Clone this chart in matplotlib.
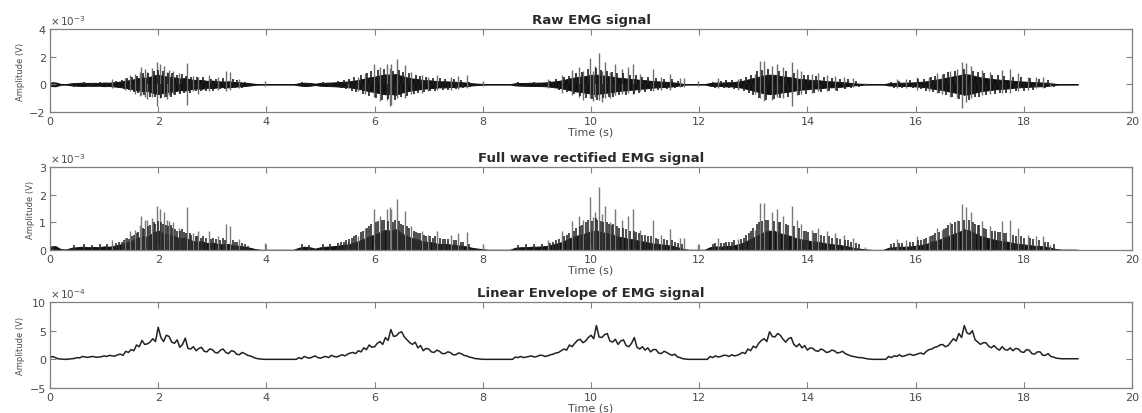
import numpy as np
import matplotlib
matplotlib.use("Agg")
import matplotlib.pyplot as plt

plt.rcParams['font.family'] = ['DejaVu Sans']

# ---------------- data ----------------
# sample times of the dense signal band, 0.1 s step, 0 .. 19 s
band_t = np.round(np.arange(0, 191) * 0.1, 1)

# half-height of the dense EMG band (x 1e-3 V)
band_amp = [
    0.12, 0.14, 0.03, 0.02, 0.08, 0.1, 0.12, 0.1, 0.11, 0.1,
    0.13, 0.12, 0.16, 0.2, 0.26, 0.32, 0.42, 0.5, 0.48, 0.62,
    0.7, 0.6, 0.55, 0.5, 0.42, 0.45, 0.35, 0.3, 0.32, 0.25,
    0.27, 0.22, 0.2, 0.22, 0.17, 0.15, 0.12, 0.08, 0.03, 0.01,
    0.01, 0.01, 0.01, 0.01, 0.01, 0.01, 0.08, 0.12, 0.1, 0.05,
    0.1, 0.12, 0.13, 0.15, 0.18, 0.2, 0.25, 0.32, 0.4, 0.5,
    0.55, 0.65, 0.72, 0.7, 0.75, 0.6, 0.5, 0.42, 0.38, 0.3,
    0.3, 0.25, 0.22, 0.22, 0.2, 0.18, 0.15, 0.13, 0.08, 0.05,
    0.03, 0.01, 0.01, 0.01, 0.01, 0.01, 0.08, 0.1, 0.1, 0.12,
    0.12, 0.13, 0.15, 0.2, 0.25, 0.32, 0.42, 0.5, 0.55, 0.6,
    0.68, 0.7, 0.65, 0.6, 0.55, 0.48, 0.45, 0.4, 0.38, 0.32,
    0.3, 0.25, 0.22, 0.2, 0.18, 0.15, 0.1, 0.04, 0.01, 0.01,
    0.01, 0.01, 0.1, 0.13, 0.12, 0.15, 0.15, 0.2, 0.25, 0.35,
    0.45, 0.55, 0.65, 0.7, 0.68, 0.6, 0.55, 0.5, 0.42, 0.38,
    0.35, 0.3, 0.3, 0.25, 0.22, 0.2, 0.18, 0.15, 0.1, 0.06,
    0.04, 0.02, 0.005, 0.005, 0.005, 0.08, 0.1, 0.12, 0.12, 0.13,
    0.15, 0.18, 0.22, 0.3, 0.35, 0.42, 0.5, 0.58, 0.65, 0.75,
    0.7, 0.6, 0.5, 0.45, 0.4, 0.35, 0.32, 0.3, 0.25, 0.22,
    0.2, 0.18, 0.15, 0.14, 0.12, 0.08, 0.03, 0.015, 0.015, 0.015,
    0.01,
]

# short single samples sticking out of the band (time s, signed value x 1e-3 V)
hair_t = [
    0.05, 0.45, 0.62, 0.78, 0.93, 1.05, 4.65, 4.78, 5.05, 5.17, 8.65, 8.8, 8.95, 9.1,
    1.22, 1.27, 1.33, 1.36, 1.43, 1.46, 1.52, 1.55, 1.61, 1.63,
    1.72, 1.74, 1.82, 1.85, 1.92, 1.94, 2.0, 2.06, 2.08, 2.14,
    2.18, 2.23, 2.25, 2.31, 2.34, 2.41, 2.44, 2.48, 2.51, 2.58,
    2.61, 2.69, 2.71, 2.79, 2.83, 2.88, 2.97, 3.02, 3.07, 3.15,
    3.19, 3.23, 3.38, 3.42, 3.46, 3.55, 3.6, 3.66,
    5.32, 5.38, 5.44, 5.47, 5.53, 5.58, 5.62, 5.66, 5.74, 5.78,
    5.86, 5.9, 5.94, 6.02, 6.06, 6.13, 6.17, 6.25, 6.34, 6.37,
    6.45, 6.48, 6.52, 6.6, 6.63, 6.72, 6.76, 6.81, 6.84, 6.92,
    6.95, 7.03, 7.08, 7.12, 7.2, 7.26, 7.3, 7.36, 7.47, 7.51,
    7.6, 7.64, 7.75,
    9.25, 9.3, 9.35, 9.4, 9.5, 9.55, 9.6, 9.68, 9.72, 9.8,
    9.83, 9.9, 9.94, 10.01, 10.1, 10.12, 10.18, 10.23, 10.3, 10.33,
    10.38, 10.41, 10.48, 10.52, 10.6, 10.64, 10.72, 10.8, 10.84, 10.88,
    10.95, 11.0, 11.05, 11.1, 11.2, 11.24, 11.35, 11.4, 11.5, 11.55,
    11.6, 11.68,
    12.25, 12.3, 12.4, 12.45, 12.5, 12.55, 12.6, 12.65, 12.77, 12.82,
    12.86, 12.92, 12.96, 13.0, 13.07, 13.1, 13.16, 13.24, 13.28, 13.38,
    13.47, 13.5, 13.6, 13.65, 13.75, 13.84, 13.93, 13.97, 14.02, 14.12,
    14.15, 14.25, 14.3, 14.4, 14.45, 14.55, 14.6, 14.7, 14.75, 14.8,
    14.9, 14.95,
    15.55, 15.6, 15.7, 15.75, 15.9, 15.95, 16.05, 16.1, 16.15, 16.2,
    16.28, 16.32, 16.36, 16.43, 16.52, 16.56, 16.6, 16.68, 16.72, 16.8,
    16.9, 16.98, 17.07, 17.1, 17.15, 17.18, 17.26, 17.3, 17.42, 17.47,
    17.52, 17.56, 17.63, 17.68, 17.8, 17.85, 17.95, 18.0, 18.12, 18.17,
    18.28, 18.4, 18.45, 18.55,
]
hair_v = [
    0.15, -0.18, 0.2, -0.18, 0.2, -0.22, 0.2, -0.18, 0.2, -0.2, 0.18, -0.2, 0.2, -0.22,
    0.25, -0.3, 0.3, -0.35, 0.45, -0.4, 0.5, -0.55, 0.6, -0.65,
    0.8, -0.75, 0.85, -0.9, 1.0, -0.95, 1.05, -1.0, 0.95, -0.9,
    0.85, -0.9, 0.8, -0.75, 0.7, -0.7, 0.75, -0.65, 0.6, -0.6,
    0.55, -0.5, 0.5, -0.45, 0.5, -0.45, 0.4, -0.45, 0.4, -0.35,
    0.45, -0.35, 0.35, -0.3, 0.3, -0.25, 0.2, -0.15,
    0.25, -0.3, 0.3, -0.35, 0.4, -0.45, 0.5, -0.55, 0.65, -0.7,
    0.8, -0.85, 0.95, -1.0, 1.05, -1.1, 1.1, -1.05, 1.0, -1.1,
    1.05, -0.95, 0.9, -0.85, 0.8, -0.7, 0.65, -0.6, 0.6, -0.55,
    0.5, -0.5, 0.45, -0.5, 0.45, -0.4, 0.4, -0.4, 0.35, -0.35,
    0.3, -0.3, 0.2,
    0.25, -0.3, 0.35, -0.4, 0.5, -0.55, 0.6, -0.7, 0.8, -0.85,
    0.9, -1.0, 1.1, -1.05, 1.15, -1.1, 1.05, -1.0, 1.0, -0.95,
    0.9, -0.95, 0.85, -0.8, 0.8, -0.75, 0.7, -0.7, 0.65, -0.6,
    0.55, -0.55, 0.5, -0.5, 0.45, -0.4, 0.4, -0.35, 0.35, -0.3,
    0.25, -0.2,
    0.2, -0.25, 0.25, -0.25, 0.3, -0.3, 0.3, -0.35, 0.4, -0.45,
    0.55, -0.6, 0.7, -0.8, 0.95, -1.0, 1.05, -1.1, 1.1, -1.05,
    1.0, -1.0, 0.95, -0.9, 0.85, -0.8, 0.7, -0.7, 0.65, -0.6,
    0.6, -0.55, 0.5, -0.5, 0.45, -0.45, 0.4, -0.35, 0.35, -0.3,
    0.25, -0.2,
    0.2, -0.25, 0.25, -0.25, 0.3, -0.3, 0.35, -0.35, 0.4, -0.45,
    0.5, -0.55, 0.6, -0.65, 0.75, -0.8, 0.9, -0.95, 1.0, -1.05,
    1.1, -1.1, 1.0, -0.95, 0.9, -0.9, 0.8, -0.75, 0.7, -0.7,
    0.65, -0.65, 0.6, -0.6, 0.55, -0.5, 0.5, -0.45, 0.45, -0.4,
    0.35, -0.3, 0.3, -0.2,
]

# tall spikes of the raw signal (time s, positive peak, negative peak; x 1e-3 V)
spike_t = [
    1.14, 1.39, 1.48, 1.57, 1.66, 1.69, 1.76, 1.79, 1.88, 1.97, 2.03, 2.11, 2.16,
    2.2, 2.28, 2.38, 2.54, 2.65, 2.74, 2.93, 3.11, 3.26, 3.33, 3.5, 3.97,
    5.5, 5.7, 5.82, 5.98, 6.1, 6.22, 6.28, 6.31, 6.41, 6.56, 6.68, 6.87, 6.99,
    7.15, 7.42, 7.55, 7.7, 8.01,
    9.21, 9.46, 9.64, 9.77, 9.86, 9.98, 10.04, 10.07, 10.15, 10.2, 10.26, 10.35,
    10.44, 10.57, 10.68, 10.77, 10.91, 11.15, 11.3, 11.46, 11.64, 11.72, 11.98,
    12.35, 12.72, 13.03, 13.12, 13.2, 13.34, 13.43, 13.55, 13.71, 13.8, 13.89,
    14.08, 14.2, 14.36, 14.51, 14.67, 14.85, 15.06,
    15.65, 15.83, 16.02, 16.24, 16.39, 16.48, 16.64, 16.76, 16.85, 16.94, 17.03,
    17.22, 17.37, 17.59, 17.74, 17.9, 18.08, 18.23, 18.35, 18.48,
]
spike_hi = [
    0.37, 0.43, 0.68, 0.74, 0.9, 1.23, 1.1, 0.9, 1.17, 1.58, 1.48, 1.36, 0.9,
    1.05, 1.0, 0.8, 1.57, 0.6, 0.55, 0.68, 0.5, 0.93, 0.86, 0.4, 0.25,
    0.3, 0.5, 0.8, 1.48, 1.23, 1.5, 1.2, 1.5, 1.83, 1.42, 0.86, 0.68, 0.55,
    0.68, 0.55, 0.62, 0.64, 0.22,
    0.37, 0.68, 1.05, 1.23, 0.93, 1.9, 1.0, 1.36, 2.28, 1.0, 1.6, 0.9,
    1.48, 1.1, 1.23, 1.48, 0.74, 1.1, 0.55, 0.77, 0.43, 0.43, 0.22,
    0.43, 0.37, 0.74, 1.69, 1.69, 1.36, 1.5, 1.23, 1.6, 1.1, 0.93,
    0.74, 0.8, 0.68, 0.62, 0.55, 0.43, 0.1,
    0.4, 0.37, 0.5, 0.5, 0.8, 0.74, 1.0, 1.1, 1.63, 1.55, 1.36,
    1.05, 0.86, 1.05, 1.1, 0.8, 0.55, 0.5, 0.5, 0.19,
]
spike_lo = [
    -0.3, -0.4, -0.5, -0.7, -0.85, -0.8, -0.9, -1.08, -0.9, -1.6, -1.0, -0.9, -1.08,
    -0.8, -0.7, -0.6, -1.52, -0.5, -0.7, -0.5, -0.4, -0.5, -0.4, -0.3, -0.1,
    -0.3, -0.45, -0.7, -0.9, -1.2, -1.1, -1.57, -1.5, -1.0, -1.0, -0.7, -0.6, -0.5,
    -0.4, -0.4, -0.35, -0.3, -0.1,
    -0.3, -0.6, -0.8, -0.9, -1.1, -1.0, -1.2, -0.9, -1.1, -1.3, -1.0, -1.0,
    -0.8, -0.7, -0.6, -0.7, -0.5, -0.5, -0.4, -0.4, -0.2, -0.2, -0.1,
    -0.3, -0.4, -0.7, -1.0, -1.2, -1.1, -0.9, -1.0, -1.6, -0.8, -0.7,
    -0.6, -0.5, -0.5, -0.4, -0.3, -0.2, -0.05,
    -0.3, -0.3, -0.4, -0.45, -0.6, -0.7, -0.9, -1.0, -1.68, -1.3, -1.0,
    -0.8, -0.7, -0.6, -0.6, -0.5, -0.4, -0.3, -0.3, -0.15,
]

# linear envelope (x 1e-4 V), 0.05 s step from 0 to 19 s
envelope = [
    0.3, 0.5, 0.3, 0.1, 0.05, 0.0, 0.0, 0.05, 0.1, 0.15, 0.3, 0.25, 0.5, 0.4, 0.35, 0.45, 0.5, 0.35, 0.4, 0.45,
    0.6, 0.5, 0.7, 0.6, 0.55, 0.8, 0.9, 0.7, 1.4, 1.2, 1.7, 1.5, 2.5, 2.2, 3.3, 2.6, 2.7, 3.0, 3.6, 3.1,
    5.6, 3.8, 3.1, 4.2, 4.0, 3.0, 2.8, 3.4, 2.1, 2.6, 3.7, 1.9, 1.8, 2.2, 1.5, 1.9, 2.1, 1.4, 1.3, 1.8,
    1.7, 1.2, 1.1, 1.6, 1.8, 1.2, 1.0, 1.5, 1.4, 0.9, 0.8, 1.2, 1.0, 0.7, 0.6, 0.4, 0.2, 0.1, 0.05, 0.0,
    0.0, 0.0, 0.0, 0.0, 0.0, 0.0, 0.0, 0.0, 0.0, 0.0, 0.0, 0.0, 0.3, 0.1, 0.5, 0.3, 0.2, 0.4, 0.6, 0.3,
    0.2, 0.4, 0.5, 0.3, 0.7, 0.5, 0.4, 0.6, 0.8, 0.6, 0.9, 1.1, 1.2, 1.0, 1.5, 1.3, 2.0, 1.7, 2.5, 2.1,
    2.2, 2.8, 3.1, 2.6, 3.8, 3.3, 5.2, 4.0, 4.1, 4.6, 4.8, 3.9, 3.4, 2.9, 2.6, 3.0, 2.0, 2.4, 1.5, 1.9,
    1.8, 1.3, 1.2, 1.6, 1.4, 1.0, 1.0, 1.3, 1.2, 0.8, 0.8, 1.1, 1.0, 0.7, 0.6, 0.4, 0.3, 0.15, 0.1, 0.05,
    0.0, 0.0, 0.0, 0.0, 0.0, 0.0, 0.0, 0.0, 0.0, 0.0, 0.0, 0.0, 0.4, 0.3, 0.5, 0.3, 0.4, 0.5, 0.6, 0.4,
    0.5, 0.7, 0.7, 0.5, 0.6, 0.8, 0.9, 1.1, 1.2, 1.5, 1.8, 1.6, 2.5, 2.2, 2.8, 3.3, 3.5, 2.9, 3.2, 3.8,
    4.2, 3.6, 5.9, 3.9, 3.8, 4.3, 4.5, 3.2, 3.0, 3.5, 2.6, 3.2, 3.4, 2.4, 2.2, 2.8, 3.8, 2.1, 1.8, 2.2,
    1.6, 2.0, 1.3, 1.7, 1.7, 1.1, 1.0, 1.4, 1.2, 0.9, 0.7, 0.9, 0.4, 0.3, 0.1, 0.05, 0.0, 0.0, 0.0, 0.0,
    0.0, 0.0, 0.0, 0.0, 0.5, 0.3, 0.6, 0.4, 0.5, 0.7, 0.7, 0.5, 0.8, 0.6, 0.7, 0.9, 1.2, 1.0, 1.8, 1.5,
    2.3, 2.0, 2.8, 3.3, 3.6, 3.1, 4.8, 4.0, 3.9, 4.5, 4.2, 3.5, 3.0, 3.6, 3.8, 2.6, 2.2, 2.7, 2.0, 2.4,
    1.6, 2.0, 1.9, 1.5, 1.4, 1.8, 1.6, 1.2, 1.3, 1.6, 1.5, 1.1, 1.2, 1.4, 1.0, 0.8, 0.6, 0.5, 0.4, 0.3,
    0.3, 0.2, 0.1, 0.05, 0.0, 0.0, 0.0, 0.0, 0.0, 0.0, 0.5, 0.3, 0.6, 0.5, 0.8, 0.5, 0.6, 0.8, 0.9, 0.7,
    0.8, 1.0, 1.1, 0.9, 1.4, 1.7, 1.8, 2.1, 2.2, 2.5, 2.6, 2.2, 2.4, 3.0, 3.6, 3.2, 4.5, 3.8, 5.9, 4.6,
    4.4, 5.0, 3.4, 3.0, 2.6, 2.9, 2.9, 2.3, 2.0, 2.4, 1.9, 1.6, 2.2, 1.7, 1.6, 2.0, 1.5, 1.9, 1.8, 1.3,
    1.2, 1.7, 1.6, 1.0, 0.9, 1.3, 1.3, 0.7, 0.7, 1.0, 0.5, 0.4, 0.2, 0.15, 0.1, 0.1, 0.1, 0.1, 0.1, 0.1,
    0.1,
]
env_t = np.round(np.arange(len(envelope)) * 0.05, 2)

titles = ["Raw EMG signal", "Full wave rectified EMG signal", "Linear Envelope of EMG signal"]
y_ticks = [[-2, 0, 2, 4], [0, 1, 2, 3], [-5, 0, 5, 10]]
exponents = ["-3", "-3", "-4"]
x_ticks = list(range(0, 21, 2))

# ---------------- figure ----------------
W, H = 1142, 414
fig = plt.figure(figsize=(W / 100, H / 100), dpi=100)

def px_axes(x0, y0, x1, y1):
    return fig.add_axes([x0 / W, 1 - y1 / H, (x1 - x0) / W, (y1 - y0) / H])

axes = [px_axes(50, 30, 1132, 113), px_axes(50, 168, 1132, 251), px_axes(50, 303, 1132, 389)]

band = np.array(band_amp)
h_t = np.array(hair_t)
h_v = np.array(hair_v)
s_t = np.array(spike_t)
s_hi = np.array(spike_hi)
s_lo = np.array(spike_lo)
s_rect = np.maximum(s_hi, -s_lo)

frame_col = "#808080"
text_col = "#4a4a4a"
spike_col = "#6e6e6e"
hair_col = "#202020"
band_col = "#111111"

# raw
ax = axes[0]
ax.vlines(s_t, s_lo, s_hi, color=spike_col, lw=1.0)
ax.vlines(h_t, 0, h_v, color=hair_col, lw=1.2)
ax.fill_between(band_t, -band, band, color=band_col, lw=0.7, edgecolor=band_col)

# rectified
ax = axes[1]
ax.vlines(s_t, 0, s_rect, color="#7a7a7a", lw=1.0)
ax.vlines(h_t, 0, np.abs(h_v), color="#303030", lw=1.2)
ax.fill_between(band_t, 0, band, color=band_col, lw=0.7, edgecolor=band_col)

# envelope
ax = axes[2]
ax.plot(env_t, envelope, color="#222222", lw=1.1)

for i, ax in enumerate(axes):
    ax.set_xlim(0, 20)
    ax.set_ylim(y_ticks[i][0], y_ticks[i][-1])
    ax.set_xticks(x_ticks)
    ax.set_yticks(y_ticks[i])
    ax.tick_params(direction="in", top=True, right=True, length=4, width=0.8,
                   colors=frame_col, labelcolor=text_col, labelsize=8, pad=3)
    for sp in ax.spines.values():
        sp.set_color(frame_col)
        sp.set_linewidth(0.9)
    ax.set_xlabel("Time (s)", fontsize=8, color=text_col, labelpad=0)
    ax.set_ylabel("Amplitude (V)", fontsize=6, color=text_col, labelpad=3)
    ax.set_title(titles[i], fontsize=9.5, fontweight="bold", color="#2a2a2a", pad=4)
    ax.text(0.0, 1.02, r"$\times\,10^{%s}$" % exponents[i], transform=ax.transAxes,
            fontsize=7.5, color=text_col, ha="left", va="bottom")

fig.savefig("out.png", dpi=100, facecolor="white")
